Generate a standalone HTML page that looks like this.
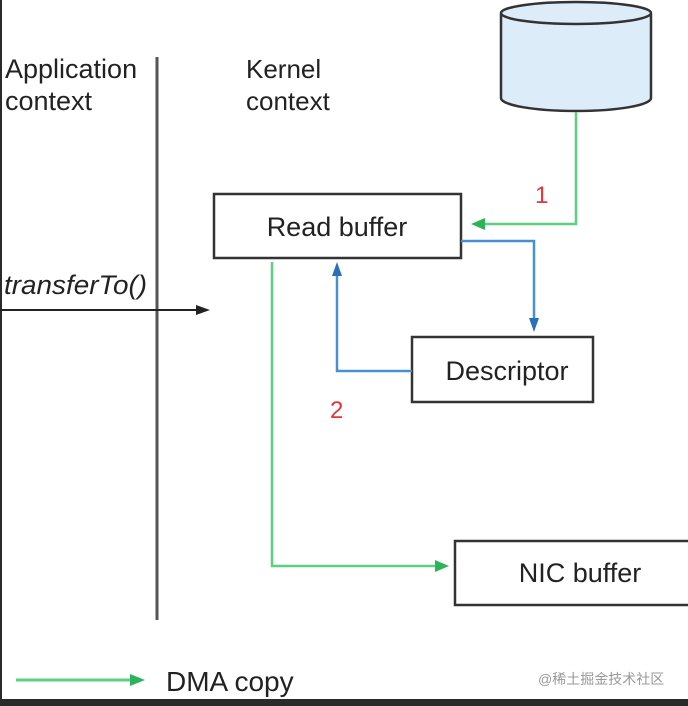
<!DOCTYPE html>
<html><head><meta charset="utf-8"><style>
html,body{margin:0;padding:0;background:#fff;}
svg{display:block;}
text{font-family:"Liberation Sans",Arial,sans-serif;fill:#222;}
</style></head><body>
<svg width="688" height="706" viewBox="0 0 688 706" xmlns="http://www.w3.org/2000/svg">
<rect x="0" y="0" width="688" height="706" fill="#fff"/>
<rect x="0" y="0" width="2" height="706" fill="#2a2a2a"/>
<rect x="0" y="699" width="688" height="7" fill="#2a2a2a"/>
<!-- cylinder -->
<path d="M501 14 L501 98 A75 13 0 0 0 651 98 L651 14" fill="#dcedf9" stroke="#333" stroke-width="2.5"/>
<ellipse cx="576" cy="13" rx="75" ry="11" fill="#dcedf9" stroke="#333" stroke-width="2.5"/>
<!-- labels -->
<text x="5" y="78" font-size="27">Application</text>
<text x="5" y="110" font-size="27">context</text>
<text x="246" y="78" font-size="26">Kernel</text>
<text x="246" y="110" font-size="26">context</text>
<line x1="157" y1="57" x2="157" y2="620" stroke="#555" stroke-width="3"/>
<text x="4" y="294" font-size="27" font-style="italic" textLength="143" lengthAdjust="spacingAndGlyphs">transferTo()</text>
<line x1="0" y1="310" x2="200" y2="310" stroke="#222" stroke-width="2"/>
<polygon points="210,310 196,305 196,315" fill="#222"/>
<!-- boxes -->
<rect x="214" y="194" width="247" height="64" fill="#fff" stroke="#333" stroke-width="2.5"/>
<text x="337" y="236" font-size="27" text-anchor="middle">Read buffer</text>
<rect x="412" y="337" width="181" height="65" fill="#fff" stroke="#333" stroke-width="2.5"/>
<text x="507" y="380" font-size="27" text-anchor="middle">Descriptor</text>
<rect x="455" y="541" width="240" height="64" fill="#fff" stroke="#333" stroke-width="2.5"/>
<text x="580" y="582" font-size="27" text-anchor="middle">NIC buffer</text>
<!-- green 1 -->
<polyline points="576,112 576,224 482,224" fill="none" stroke="#5fcf7f" stroke-width="2.5"/>
<polygon points="471,224 485,218 485,230" fill="#2db35a"/>
<text x="535" y="203" font-size="24" style="fill:#e8333a">1</text>
<!-- blue -->
<polyline points="461,241 534,241 534,322" fill="none" stroke="#4a90d0" stroke-width="2.5"/>
<polygon points="534,332 529,318 539,318" fill="#2a6fb8"/>
<polyline points="412,371 337,371 337,272" fill="none" stroke="#4a90d0" stroke-width="2.5"/>
<polygon points="337,262 332,276 342,276" fill="#2a6fb8"/>
<text x="330" y="418" font-size="24" style="fill:#e8333a">2</text>
<!-- green to NIC -->
<polyline points="272,262 272,566 438,566" fill="none" stroke="#5fcf7f" stroke-width="2.5"/>
<polygon points="449,566 435,560 435,572" fill="#2db35a"/>
<!-- legend -->
<line x1="16" y1="680" x2="135" y2="680" stroke="#5fcf7f" stroke-width="3"/>
<polygon points="145,680 130,674 130,686" fill="#2db35a"/>
<text x="166" y="691" font-size="28">DMA copy</text>
<text x="538" y="684" font-size="14" style="fill:#999;font-family:'Liberation Sans','Noto Sans CJK SC',sans-serif">@稀土掘金技术社区</text>
</svg>
</body></html>
